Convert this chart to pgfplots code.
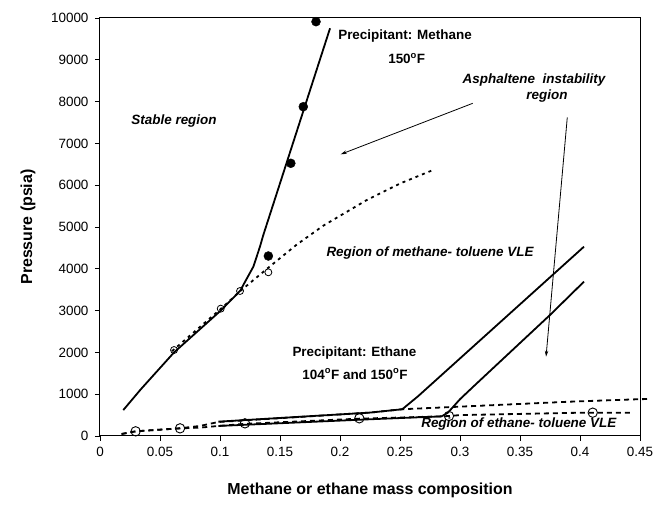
\documentclass[border=0pt]{standalone}
\usepackage{fontspec}
\setmainfont{Liberation Sans}
\usepackage{pgfplots}
\pgfplotsset{compat=1.18}
\usetikzlibrary{arrows.meta}
\begin{document}
\begin{tikzpicture}[x=1bp,y=1bp]
\path[use as bounding box] (-100,-72) rectangle (555,436);
\begin{axis}[
  at={(0,0)}, anchor=south west,
  scale only axis, width=540bp, height=418bp,
  xmin=0, xmax=0.45, ymin=0, ymax=10000,
  scaled x ticks=false, scaled y ticks=false,
  xtick={0,0.05,0.1,0.15,0.2,0.25,0.3,0.35,0.4,0.45},
  xticklabels={0,0.05,0.1,0.15,0.2,0.25,0.3,0.35,0.4,0.45},
  ytick={0,1000,2000,3000,4000,5000,6000,7000,8000,9000,10000},
  yticklabels={0,1000,2000,3000,4000,5000,6000,7000,8000,9000,10000},
  tick pos=left, tick align=outside, major tick length=5bp,
  tick style={black, line width=0.8bp},
  axis line style={line width=1bp},
  ticklabel style={font=\fontsize{13.5}{15}\selectfont},
  x tick label style={yshift=-3bp},
  y tick label style={xshift=-3bp},
  xlabel={\bfseries Methane or ethane mass composition},
  ylabel={\bfseries Pressure (psia)},
  label style={font=\fontsize{16}{18}\selectfont},
  xlabel style={at={(axis description cs:0.5,-0.1292)}, anchor=center},
  ylabel style={at={(axis description cs:-0.1333,0.5)}, anchor=center},
  clip=false,
]
% methane asphaltene onset (solid)
\addplot[black, line width=1.8bp, no marks] coordinates {
 (0.0194,620) (0.034,1117) (0.0617,2000) (0.1006,3000) (0.117,3480) (0.1194,3612)
 (0.1278,4051) (0.1333,4529) (0.136,4800) (0.1917,9754)};
% methane-toluene VLE (dashed)
\addplot[black, line width=1.8bp, dash pattern=on 3bp off 4bp, no marks] coordinates {
 (0.06,2030) (0.1006,3040) (0.117,3470) (0.14,4020) (0.164,4580) (0.186,5030)
 (0.222,5640) (0.25,6040) (0.279,6380)};
% methane onset data
\addplot[only marks, mark=*, mark size=4.5bp, black] coordinates {
 (0.1403,4306) (0.159,6524) (0.1694,7878) (0.18,9912)};
% methane VLE data
\addplot[only marks, mark=o, mark size=3.5bp, black, mark options={line width=0.8bp}] coordinates {
 (0.0617,2057) (0.1006,3046) (0.1167,3469) (0.1403,3916)};
% ethane VLE dashed
\addplot[black, line width=1.8bp, dash pattern=on 5bp off 4bp, no marks] coordinates {
 (0.018,48) (0.0297,112) (0.0667,185) (0.0833,240) (0.0986,335) (0.225,560) (0.2519,640)
 (0.30,702) (0.3917,821) (0.447,878) (0.456,885)};
\addplot[black, line width=1.8bp, dash pattern=on 5bp off 4bp, no marks] coordinates {
 (0.018,48) (0.0297,112) (0.0667,183) (0.0833,200) (0.0986,240) (0.1208,290) (0.2161,415)
 (0.2847,470) (0.2908,478) (0.30,500) (0.397,555) (0.4417,558)};
% ethane onset solid
\addplot[black, line width=1.8bp, no marks] coordinates {
 (0.0986,343) (0.225,560) (0.2519,640) (0.265,950) (0.4033,4529)};
\addplot[black, line width=1.8bp, no marks] coordinates {
 (0.0986,240) (0.225,400) (0.2847,470) (0.29,560) (0.30,880) (0.311,1179) (0.375,2895) (0.4033,3692)};
% ethane VLE data
\addplot[only marks, mark=o, mark size=4.7bp, black, mark options={line width=0.9bp}] coordinates {
 (0.0297,112) (0.0667,183) (0.1208,303) (0.2161,423) (0.2908,478) (0.4106,558)};
% arrows
\draw[line width=0.8bp, -{Stealth[length=6bp,width=3.5bp]}] (axis cs:0.3106,7959) -- (axis cs:0.2006,6739);
\draw[line width=0.8bp, -{Stealth[length=6bp,width=3.5bp]}] (axis cs:0.3894,7624) -- (axis cs:0.3717,1897);
% annotations
\begin{scope}[every node/.style={font=\fontsize{13.5}{16}\selectfont\bfseries, inner sep=0pt}]
\node at (axis cs:0.2542,9569) {Precipitant: Methane};
\node at (axis cs:0.2556,9036) {150\textsuperscript{o}F};
\node at (axis cs:0.0617,7543) {\itshape Stable region};
\node at (axis cs:0.3617,8517) {\itshape Asphaltene\ \ instability};
\node at (axis cs:0.3725,8134) {\itshape region};
\node at (axis cs:0.275,4378) {\itshape Region of methane- toluene VLE};
\node at (axis cs:0.212,1993) {Precipitant: Ethane};
\node at (axis cs:0.2125,1483) {104\textsuperscript{o}F and 150\textsuperscript{o}F};
\node at (axis cs:0.349,280) {\itshape Region of ethane- toluene VLE};
\end{scope}
\end{axis}
\end{tikzpicture}
\end{document}
